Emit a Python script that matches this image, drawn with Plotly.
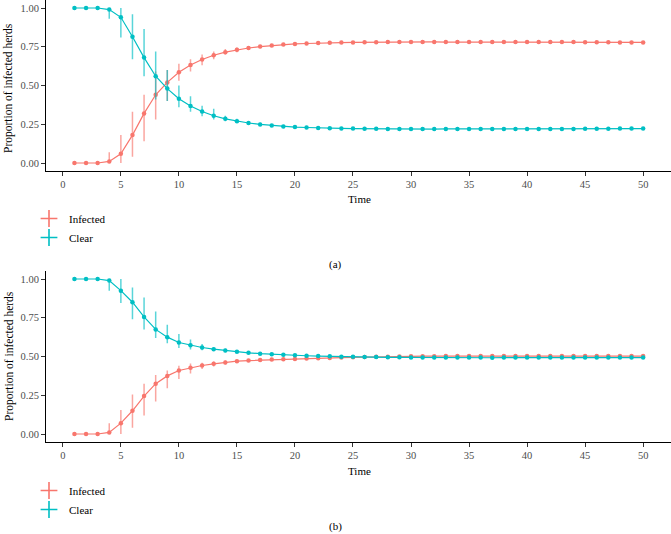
import plotly.graph_objects as go

time = list(range(1, 51))
x_ticks = [0, 5, 10, 15, 20, 25, 30, 35, 40, 45, 50]
y_ticks = [0.0, 0.25, 0.5, 0.75, 1.0]
series_names = ["Infected", "Clear"]
panel_labels = ["(a)", "(b)"]

# ---------------- Panel (a) ----------------
inf_a = [0, 0, 0, 0.01, 0.06, 0.18, 0.32, 0.44, 0.52, 0.585,
         0.632, 0.668, 0.695, 0.715, 0.73, 0.742, 0.751, 0.758, 0.764, 0.768,
         0.771, 0.774, 0.776, 0.777, 0.778, 0.779, 0.779, 0.78, 0.78, 0.78,
         0.78, 0.781, 0.78, 0.78, 0.78, 0.78, 0.781, 0.78, 0.78, 0.78,
         0.78, 0.78, 0.78, 0.78, 0.779, 0.779, 0.779, 0.778, 0.778, 0.778]
inf_a_up = [0, 0, 0, 0.06, 0.12, 0.15, 0.12, 0.15, 0.08, 0.055,
            0.038, 0.032, 0.025, 0.02, 0.015, 0.013, 0.011, 0.01, 0.009, 0.009,
            0.008, 0.008, 0.007, 0.007, 0.007, 0.006, 0.006, 0.006, 0.006, 0.006,
            0.006, 0.006, 0.006, 0.006, 0.006, 0.006, 0.006, 0.006, 0.006, 0.006,
            0.006, 0.006, 0.006, 0.006, 0.006, 0.006, 0.006, 0.006, 0.006, 0.006]
inf_a_dn = [0, 0, 0, 0.01, 0.06, 0.14, 0.18, 0.16, 0.12, 0.055,
            0.042, 0.038, 0.025, 0.015, 0.015, 0.012, 0.011, 0.01, 0.009, 0.009,
            0.008, 0.008, 0.007, 0.007, 0.007, 0.006, 0.006, 0.006, 0.006, 0.006,
            0.006, 0.006, 0.006, 0.006, 0.006, 0.006, 0.006, 0.006, 0.006, 0.006,
            0.006, 0.006, 0.006, 0.006, 0.006, 0.006, 0.006, 0.006, 0.006, 0.006]
clr_a = [1, 1, 1, 0.99, 0.94, 0.815, 0.68, 0.56, 0.48, 0.415,
         0.368, 0.332, 0.305, 0.285, 0.27, 0.258, 0.249, 0.242, 0.236, 0.232,
         0.229, 0.226, 0.224, 0.223, 0.222, 0.221, 0.221, 0.22, 0.22, 0.22,
         0.22, 0.219, 0.22, 0.22, 0.22, 0.22, 0.219, 0.22, 0.22, 0.22,
         0.22, 0.22, 0.22, 0.22, 0.221, 0.221, 0.221, 0.222, 0.222, 0.222]
clr_a_up = [0, 0, 0, 0.01, 0.06, 0.145, 0.185, 0.16, 0.12, 0.085,
            0.062, 0.038, 0.045, 0.02, 0.015, 0.012, 0.011, 0.01, 0.009, 0.009,
            0.008, 0.008, 0.007, 0.007, 0.007, 0.006, 0.006, 0.006, 0.006, 0.006,
            0.006, 0.006, 0.006, 0.006, 0.006, 0.006, 0.006, 0.006, 0.006, 0.006,
            0.006, 0.006, 0.006, 0.006, 0.006, 0.006, 0.006, 0.006, 0.006, 0.006]
clr_a_dn = [0, 0, 0, 0.06, 0.13, 0.145, 0.12, 0.15, 0.08, 0.055,
            0.038, 0.03, 0.025, 0.015, 0.012, 0.011, 0.01, 0.009, 0.009, 0.008,
            0.008, 0.008, 0.007, 0.007, 0.007, 0.006, 0.006, 0.006, 0.006, 0.006,
            0.006, 0.006, 0.006, 0.006, 0.006, 0.006, 0.006, 0.006, 0.006, 0.006,
            0.006, 0.006, 0.006, 0.006, 0.006, 0.006, 0.006, 0.006, 0.006, 0.006]

# ---------------- Panel (b) ----------------
inf_b = [0, 0, 0, 0.01, 0.07, 0.15, 0.245, 0.325, 0.375, 0.41,
         0.428, 0.442, 0.453, 0.462, 0.47, 0.474, 0.477, 0.48, 0.482, 0.484,
         0.487, 0.489, 0.491, 0.493, 0.495, 0.497, 0.498, 0.499, 0.5, 0.501,
         0.502, 0.502, 0.503, 0.503, 0.503, 0.503, 0.504, 0.503, 0.503, 0.503,
         0.503, 0.503, 0.503, 0.503, 0.503, 0.503, 0.503, 0.503, 0.503, 0.503]
inf_b_up = [0, 0, 0, 0.06, 0.085, 0.105, 0.08, 0.055, 0.035, 0.03,
            0.027, 0.018, 0.015, 0.012, 0.01, 0.009, 0.008, 0.008, 0.007, 0.007,
            0.007, 0.006, 0.006, 0.006, 0.006, 0.006, 0.005, 0.005, 0.005, 0.005,
            0.005, 0.005, 0.005, 0.005, 0.005, 0.005, 0.005, 0.005, 0.005, 0.005,
            0.005, 0.005, 0.005, 0.005, 0.005, 0.005, 0.005, 0.005, 0.005, 0.005]
inf_b_dn = [0, 0, 0, 0.01, 0.07, 0.11, 0.125, 0.115, 0.08, 0.055,
            0.038, 0.022, 0.018, 0.014, 0.012, 0.01, 0.009, 0.008, 0.008, 0.007,
            0.007, 0.006, 0.006, 0.006, 0.006, 0.006, 0.005, 0.005, 0.005, 0.005,
            0.005, 0.005, 0.005, 0.005, 0.005, 0.005, 0.005, 0.005, 0.005, 0.005,
            0.005, 0.005, 0.005, 0.005, 0.005, 0.005, 0.005, 0.005, 0.005, 0.005]
clr_b = [1, 1, 1, 0.99, 0.925, 0.85, 0.755, 0.675, 0.625, 0.59,
         0.572, 0.558, 0.547, 0.538, 0.53, 0.524, 0.518, 0.514, 0.511, 0.508,
         0.505, 0.503, 0.501, 0.499, 0.498, 0.497, 0.496, 0.495, 0.495, 0.494,
         0.493, 0.493, 0.493, 0.493, 0.493, 0.493, 0.492, 0.493, 0.493, 0.493,
         0.493, 0.493, 0.493, 0.493, 0.493, 0.493, 0.493, 0.493, 0.493, 0.493]
clr_b_up = [0, 0, 0, 0.01, 0.075, 0.095, 0.125, 0.115, 0.08, 0.055,
            0.038, 0.022, 0.013, 0.012, 0.01, 0.009, 0.008, 0.008, 0.007, 0.007,
            0.007, 0.006, 0.006, 0.006, 0.006, 0.006, 0.005, 0.005, 0.005, 0.005,
            0.005, 0.005, 0.005, 0.005, 0.005, 0.005, 0.005, 0.005, 0.005, 0.005,
            0.005, 0.005, 0.005, 0.005, 0.005, 0.005, 0.005, 0.005, 0.005, 0.005]
clr_b_dn = [0, 0, 0, 0.065, 0.08, 0.11, 0.08, 0.055, 0.04, 0.035,
            0.027, 0.018, 0.012, 0.01, 0.008, 0.008, 0.007, 0.007, 0.007, 0.006,
            0.006, 0.006, 0.006, 0.006, 0.006, 0.005, 0.005, 0.005, 0.005, 0.005,
            0.005, 0.005, 0.005, 0.005, 0.005, 0.005, 0.005, 0.005, 0.005, 0.005,
            0.005, 0.005, 0.005, 0.005, 0.005, 0.005, 0.005, 0.005, 0.005, 0.005]

RED = "#F8766D"
CYAN = "#00BFC4"
RED_A = "rgba(248,118,109,0.65)"
CYAN_A = "rgba(0,191,196,0.65)"
FONT = "Liberation Serif"

W, H = 671, 534
fig = go.Figure()

panels = [
    ("x", "y", "legend", [(inf_a, inf_a_up, inf_a_dn), (clr_a, clr_a_up, clr_a_dn)]),
    ("x2", "y2", "legend2", [(inf_b, inf_b_up, inf_b_dn), (clr_b, clr_b_up, clr_b_dn)]),
]
colors = [(RED, RED_A), (CYAN, CYAN_A)]

for xa, ya, lg, series in panels:
    for name, (vals, up, dn), (col, cola) in zip(series_names, series, colors):
        fig.add_trace(go.Scatter(
            x=time, y=vals, mode="lines+markers", name=name,
            xaxis=xa, yaxis=ya, showlegend=False,
            line=dict(color=col, width=1.2),
            marker=dict(color=col, size=4.5),
            error_y=dict(type="data", symmetric=False, array=up, arrayminus=dn,
                         color=cola, thickness=1.5, width=0),
        ))
        # legend key (ggplot-like cross glyph)
        fig.add_trace(go.Scatter(
            x=[None], y=[None], mode="markers", name=name,
            xaxis=xa, yaxis=ya, legend=lg, showlegend=True,
            marker=dict(symbol="cross-thin", size=12, color=col,
                        line=dict(color=col, width=1.6)),
        ))

def px_x(p):
    return p / W

def px_y(p):
    return 1 - p / H

xdom = [px_x(46), 1.0]
axis_common = dict(showline=True, linecolor="black", linewidth=1, ticks="outside",
                   ticklen=4, tickcolor="#333333", tickwidth=1, showgrid=False,
                   zeroline=False, tickfont=dict(family=FONT, size=10.5, color="#4D4D4D"))

fig.update_layout(
    width=W, height=H, margin=dict(l=0, r=0, t=0, b=0),
    paper_bgcolor="white", plot_bgcolor="white",
    font=dict(family=FONT, color="black"),
    xaxis=dict(domain=xdom, anchor="y", range=[-1.45, 52.4], tickvals=x_ticks, **axis_common),
    yaxis=dict(domain=[px_y(170.75), px_y(0.25)], anchor="x", range=[-0.05, 1.05],
               tickvals=y_ticks, tickformat=".2f", **axis_common),
    xaxis2=dict(domain=xdom, anchor="y2", range=[-1.45, 52.4], tickvals=x_ticks, **axis_common),
    yaxis2=dict(domain=[px_y(441.75), px_y(271.25)], anchor="x2", range=[-0.05, 1.05],
                tickvals=y_ticks, tickformat=".2f", **axis_common),
    legend=dict(x=px_x(29), y=px_y(204), xanchor="left", yanchor="top",
                font=dict(family=FONT, size=11, color="black"), bgcolor="rgba(0,0,0,0)",
                tracegroupgap=0),
    legend2=dict(x=px_x(29), y=px_y(476), xanchor="left", yanchor="top",
                 font=dict(family=FONT, size=11, color="black"), bgcolor="rgba(0,0,0,0)",
                 tracegroupgap=0),
)

annots = []
for yc in (88, 356):
    annots.append(dict(text="Proportion of infected herds", x=px_x(9), y=px_y(yc),
                       xref="paper", yref="paper", showarrow=False, textangle=-90,
                       xanchor="center", yanchor="middle",
                       font=dict(family=FONT, size=11.5, color="black")))
for yc in (199, 471):
    annots.append(dict(text="Time", x=px_x(359), y=px_y(yc), xref="paper", yref="paper",
                       xanchor="center", yanchor="middle",
                       showarrow=False, font=dict(family=FONT, size=11, color="black")))
for lab, yc in zip(panel_labels, (264, 526)):
    annots.append(dict(text=lab, x=px_x(335), y=px_y(yc), xref="paper", yref="paper",
                       xanchor="center", yanchor="middle",
                       showarrow=False, font=dict(family=FONT, size=11, color="black")))
fig.update_layout(annotations=annots)

fig.write_html("out.html")
